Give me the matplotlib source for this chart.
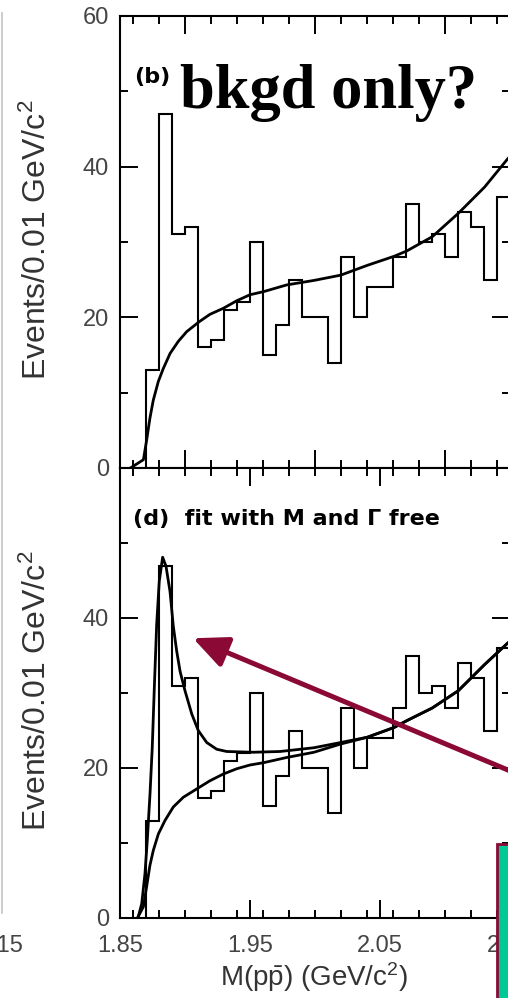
import matplotlib
matplotlib.use("Agg")
import matplotlib.pyplot as plt
from matplotlib.lines import Line2D
from matplotlib.patches import Rectangle
from matplotlib.ticker import MultipleLocator

plt.rcParams['font.family'] = ['Liberation Sans', 'DejaVu Sans']
plt.rcParams['mathtext.fontset'] = 'custom'
plt.rcParams['mathtext.rm'] = 'Liberation Sans'
plt.rcParams['mathtext.it'] = 'Liberation Sans:italic'

# M(p pbar) histogram, 0.01 GeV bins starting at 1.87
bin_edges = [1.87, 1.88, 1.89, 1.90, 1.91, 1.92, 1.93, 1.94, 1.95, 1.96,
             1.97, 1.98, 1.99, 2.00, 2.01, 2.02, 2.03, 2.04, 2.05, 2.06,
             2.07, 2.08, 2.09, 2.10, 2.11, 2.12, 2.13, 2.14, 2.15]
counts = [13, 47, 31, 32, 16, 17, 21, 22, 30, 15,
          19, 25, 20, 20, 14, 28, 20, 24, 24, 28,
          35, 30, 31, 28, 34, 32, 25, 36]

# (b) background-only fit
bkg_b_x = [1.858, 1.868, 1.8705, 1.873, 1.8756, 1.8795, 1.8833, 1.8885, 1.8948,
           1.9013, 1.9108, 1.9192, 1.9295, 1.9398, 1.95, 1.9602, 1.9782, 1.9992,
           2.0198, 2.0402, 2.0608, 2.0705, 2.0902, 2.1102, 2.1305, 2.1485, 2.155]
bkg_b_y = [0.0, 1.1, 3.7, 6.6, 9.0, 11.5, 13.2, 15.2, 16.8,
           18.1, 19.4, 20.4, 21.2, 22.2, 23.0, 23.4, 24.3, 24.9,
           25.6, 26.9, 28.1, 28.8, 30.7, 33.8, 37.3, 41.1, 42.2]

# (d) signal + background fit, M and Gamma free
tot_d_x = [1.8641, 1.8667, 1.8692, 1.871, 1.8731, 1.8748, 1.8764, 1.8782, 1.8802,
           1.8828, 1.8854, 1.8885, 1.891, 1.8936, 1.8962, 1.90, 1.9052, 1.9102,
           1.9167, 1.9244, 1.9321, 1.9525, 1.9731, 1.9992, 2.0198, 2.0402, 2.0608,
           2.0705, 2.0902, 2.1102, 2.1305, 2.1485, 2.155]
tot_d_y = [0.2, 1.9, 5.9, 10.4, 16.6, 22.7, 30.7, 39.1, 44.9,
           48.1, 46.9, 43.5, 38.9, 35.6, 32.9, 30.3, 27.2, 25.0,
           23.4, 22.5, 22.2, 22.1, 22.2, 22.7, 23.4, 24.1, 25.4,
           26.3, 28.0, 30.3, 33.8, 36.7, 37.6]

# (d) background component
bkg_d_x = [1.864, 1.868, 1.8705, 1.873, 1.8756, 1.8795, 1.8846, 1.891, 1.8987,
           1.9108, 1.9192, 1.9295, 1.9398, 1.95, 1.9602, 1.9782, 1.9992, 2.0198,
           2.0402, 2.0608, 2.0705, 2.0902, 2.1102, 2.1305, 2.1485, 2.155]
bkg_d_y = [0.2, 1.5, 4.2, 7.0, 9.0, 11.2, 13.0, 14.8, 16.1,
           17.4, 18.3, 19.2, 19.9, 20.4, 20.7, 21.4, 22.1, 23.2,
           24.1, 25.4, 26.3, 28.0, 30.3, 33.8, 36.7, 37.6]

W, H = 508, 998
fig = plt.figure(figsize=(W / 100, H / 100), dpi=100)
fig.patch.set_facecolor('white')

ax1 = fig.add_axes([120 / W, 530 / H, 390 / W, 452 / H])
ax2 = fig.add_axes([120 / W, 80 / H, 390 / W, 450 / H])

for ax in (ax1, ax2):
    ax.stairs(counts, bin_edges, baseline=0, color='black', lw=1.5)
    ax.set_xlim(1.85, 2.15)
    ax.set_ylim(0, 60)
    ax.xaxis.set_major_locator(MultipleLocator(0.1))
    ax.xaxis.set_minor_locator(MultipleLocator(0.02))
    ax.yaxis.set_minor_locator(MultipleLocator(10))
    ax.tick_params(which='both', direction='in', top=True, right=True,
                   width=1.4, colors='black', labelcolor='#444444', labelsize=17)
    ax.tick_params(which='major', length=13)
    ax.tick_params(which='minor', length=6)
    ax.tick_params(axis='x', pad=12)
    ax.tick_params(axis='y', pad=8)
    for sp in ax.spines.values():
        sp.set_linewidth(1.5)

ax1.set_yticks([0, 20, 40, 60])
ax1.tick_params(axis='x', labelbottom=False)
ax1.plot(bkg_b_x, bkg_b_y, color='black', lw=2)

ax2.set_yticks([0, 20, 40])
ax2.set_xticks([1.85, 1.95, 2.05, 2.15])
ax2.set_xticklabels(['1.85', '1.95', '2.05', '2.15'])
ax2.plot(tot_d_x, tot_d_y, color='black', lw=2)
ax2.plot(bkg_d_x, bkg_d_y, color='black', lw=2)

# panel tags and titles
ax1.text(0.036, 0.865, '(b)', transform=ax1.transAxes, family='DejaVu Sans',
         fontsize=16, fontweight='bold', va='center', ha='left')
fig.text(180 / W, 1 - 108 / H, 'bkgd only?', family='Liberation Serif',
         fontweight='bold', fontsize=45, va='baseline', ha='left')
ax2.text(0.033, 0.886, '(d)  fit with M and \u0393 free', transform=ax2.transAxes,
         family='DejaVu Sans', fontsize=16, fontweight='bold',
         va='center', ha='left')

ylab = 'Events/0.01 GeV/c$^2$'
fig.text(37 / W, 1 - 240 / H, ylab, rotation=90, ha='center', va='center',
         fontsize=23, color='#333333')
fig.text(37 / W, 1 - 691 / H, ylab, rotation=90, ha='center', va='center',
         fontsize=23, color='#333333')
fig.text(314 / W, 1 - 977 / H, r'M(p$\bar{\mathrm{p}}$) (GeV/c$^2$)',
         ha='center', va='center', fontsize=20, color='#333333')
# last tick label of the neighbouring panel on the left
fig.text(1 / W, 1 - 946 / H, '2.15', ha='center', va='center',
         fontsize=17, color='#444444')

fig.add_artist(Line2D([2 / W, 2 / W], [1 - 13 / H, 1 - 913 / H],
                      color='#c4c4c4', lw=1.2))

ax2.annotate('', xy=(1.9062, 37.3), xytext=(2.175, 17.8),
             arrowprops=dict(arrowstyle='-|>,head_length=1.05,head_width=0.48',
                             color='#8b0a35', lw=3.6, mutation_scale=20,
                             shrinkA=0, shrinkB=0),
             annotation_clip=False)

fig.add_artist(Rectangle((497 / W, -0.01), 0.1, (998 - 844) / H + 0.01,
                         facecolor='#00c896', edgecolor='#8b0a35', lw=2,
                         transform=fig.transFigure))

fig.savefig('out.png', dpi=100)
